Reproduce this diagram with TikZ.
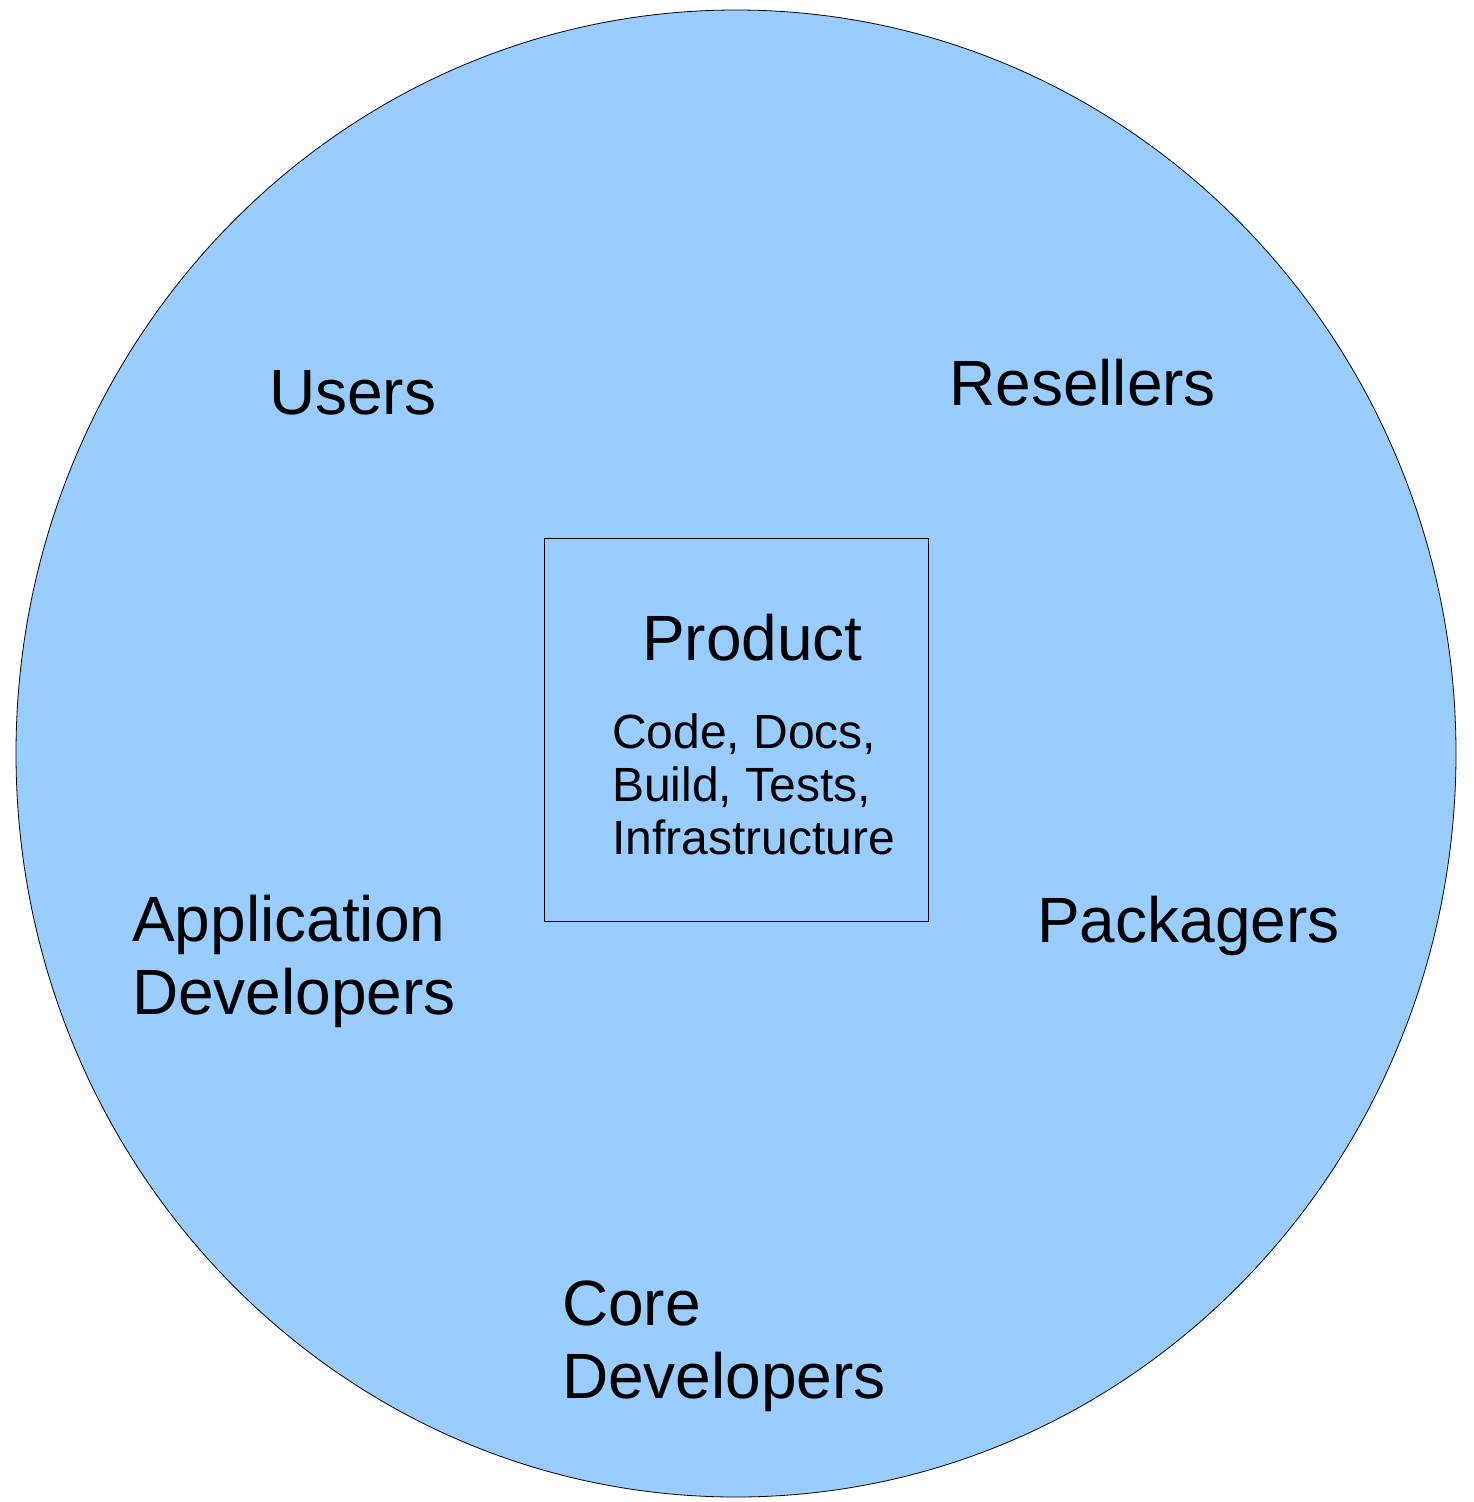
\documentclass[tikz,border=0pt]{standalone}
\usepackage{fontspec}
\setmainfont{Liberation Sans}
\begin{document}
\begin{tikzpicture}[x=1pt,y=-1pt,
  big/.style={font=\fontsize{64}{73}\selectfont, inner sep=0pt, anchor=base west, align=left},
  small/.style={font=\fontsize{48}{53}\selectfont, inner sep=0pt, anchor=base west, align=left}]
\useasboundingbox (0,0) rectangle (1473,1502);
\draw[fill={rgb,255:red,153;green,204;blue,255}, line width=0.8pt] (736,753.5) ellipse [x radius=720, y radius=743.5];
\node[draw, line width=0.8pt, minimum width=384pt, minimum height=383pt, inner sep=0pt] (box) at (736,729.5) {};
\node[big] (users) at (269,414) {Users};
\node[big] (resellers) at (949,405) {Resellers};
\node[big] (product) at (642,660) {Product};
\node[small] (code) at (612,854) {Code, Docs,\\Build, Tests,\\Infrastructure};
\node[big] (appdev) at (132,1014) {Application\\Developers};
\node[big] (pack) at (1037,942) {Packagers};
\node[big] (core) at (562,1398) {Core\\Developers};
\end{tikzpicture}
\end{document}
